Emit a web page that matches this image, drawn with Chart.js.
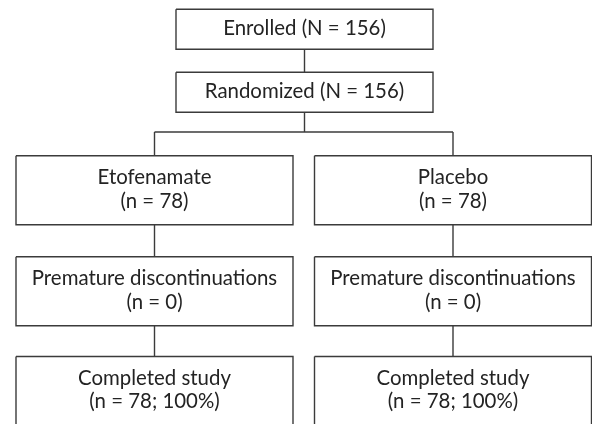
<!DOCTYPE html>
<html>
<head>
<meta charset="utf-8">
<script src="https://cdn.jsdelivr.net/npm/chart.js@4"></script>
<style>
  html, body { margin: 0; padding: 0; background: #fff; }
  #chart { display: block; }
</style>
</head>
<body>
<canvas id="chart" width="592" height="424"></canvas>
<script>
// study flow numbers
const enrolledN = 156;
const randomizedN = 156;
const arms = ['Etofenamate', 'Placebo'];
const allocatedN = [78, 78];
const discontinuedN = [0, 0];
const completedN = [78, 78];
const completedPct = [100, 100];

// layout grid (in layout units, mapped by the chart scales)
const cols = { center: { cx: 304.5, w: 257 }, left: { cx: 154.5, w: 277 }, right: { cx: 453, w: 277 } };
const rows = [
  { cy: 29.3, h: 40 },
  { cy: 92.2, h: 40 },
  { cy: 190.3, h: 69 },
  { cy: 291.2, h: 69 },
  { cy: 391, h: 69 }
];
const branchY = 132;
const lineColor = '#3b3b3b';
const textColor = '#232323';
const fontFamily = 'Lato, "Open Sans", sans-serif';
const fontSize = 20.4;

// build nodes from the data
const nodes = [];
nodes.push({ col: 'center', row: 0, text: [`Enrolled (N = ${enrolledN})`] });
nodes.push({ col: 'center', row: 1, text: [`Randomized (N = ${randomizedN})`] });
arms.forEach((arm, i) => {
  const col = i === 0 ? 'left' : 'right';
  nodes.push({ col, row: 2, text: [arm, `(n = ${allocatedN[i]})`] });
  nodes.push({ col, row: 3, text: ['Premature discontinuations', `(n = ${discontinuedN[i]})`] });
  nodes.push({ col, row: 4, text: ['Completed study', `(n = ${completedN[i]}; ${completedPct[i]}%)`] });
});

function box(n) {
  const c = cols[n.col], r = rows[n.row];
  return { x0: c.cx - c.w / 2, x1: c.cx + c.w / 2, y0: r.cy - r.h / 2, y1: r.cy + r.h / 2, cx: c.cx, cy: r.cy };
}

const lineDs = (pts) => ({
  type: 'line',
  data: pts,
  borderColor: lineColor,
  borderWidth: 1.4,
  pointRadius: 0,
  fill: false,
  tension: 0,
  showLine: true
});

const datasets = [];
// box outlines
nodes.forEach(n => {
  const b = box(n);
  datasets.push(lineDs([
    { x: b.x0, y: b.y0 }, { x: b.x1, y: b.y0 }, { x: b.x1, y: b.y1 },
    { x: b.x0, y: b.y1 }, { x: b.x0, y: b.y0 }
  ]));
});
// connectors
const cTop = box(nodes[0]), cMid = box(nodes[1]);
datasets.push(lineDs([{ x: cTop.cx, y: cTop.y1 }, { x: cMid.cx, y: cMid.y0 }]));
datasets.push(lineDs([{ x: cMid.cx, y: cMid.y1 }, { x: cMid.cx, y: branchY }]));
datasets.push(lineDs([{ x: cols.left.cx, y: branchY }, { x: cols.right.cx, y: branchY }]));
['left', 'right'].forEach(col => {
  const armNodes = nodes.filter(n => n.col === col).map(box);
  datasets.push(lineDs([{ x: armNodes[0].cx, y: branchY }, { x: armNodes[0].cx, y: armNodes[0].y0 }]));
  for (let k = 1; k < armNodes.length; k++) {
    datasets.push(lineDs([{ x: armNodes[k - 1].cx, y: armNodes[k - 1].y1 }, { x: armNodes[k].cx, y: armNodes[k].y0 }]));
  }
});

const labelPlugin = {
  id: 'boxLabels',
  afterDatasetsDraw(chart) {
    const ctx = chart.ctx;
    const xs = chart.scales.x, ys = chart.scales.y;
    ctx.save();
    ctx.fillStyle = textColor;
    ctx.font = `${fontSize}px ${fontFamily}`;
    ctx.textAlign = 'center';
    ctx.textBaseline = 'middle';
    nodes.forEach(n => {
      const b = box(n);
      const px = xs.getPixelForValue(b.cx);
      const lineGap = 23.6;
      n.text.forEach((t, i) => {
        const off = (i - (n.text.length - 1) / 2) * lineGap;
        const py = ys.getPixelForValue(b.cy) + off - 1;
        ctx.fillText(t, px, py);
      });
    });
    ctx.restore();
  }
};

new Chart(document.getElementById('chart'), {
  type: 'scatter',
  data: { datasets },
  options: {
    responsive: false,
    animation: false,
    layout: { padding: 0 },
    plugins: { legend: { display: false }, tooltip: { enabled: false } },
    scales: {
      x: { type: 'linear', min: 0, max: 592, display: false },
      y: { type: 'linear', min: 0, max: 424, reverse: true, display: false }
    }
  },
  plugins: [labelPlugin]
});
</script>
</body>
</html>
